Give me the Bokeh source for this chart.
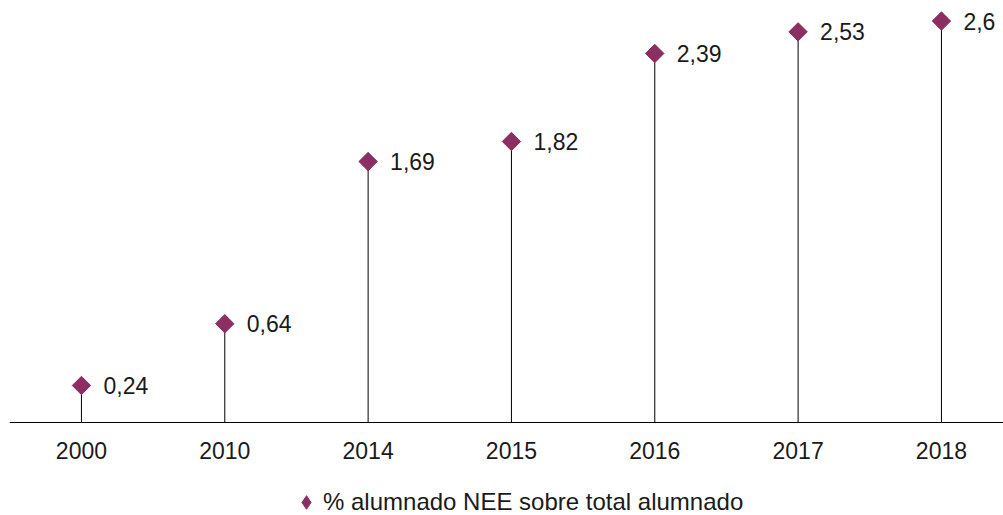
import math
from bokeh.plotting import figure
from bokeh.models import ColumnDataSource, Legend, LegendItem, FixedTicker, Range1d
from bokeh.core.properties import value
from bokeh.embed import file_html
from bokeh.resources import INLINE

years = ["2000", "2010", "2014", "2015", "2016", "2017", "2018"]
values = [0.24, 0.64, 1.69, 1.82, 2.39, 2.53, 2.6]
labels = ["0,24", "0,64", "1,69", "1,82", "2,39", "2,53", "2,6"]
series_name = "% alumnado NEE sobre total alumnado"

idx = list(range(len(years)))
src = ColumnDataSource(dict(x=idx, y=values, y0=[0] * len(values), lab=labels))

FONT = "Liberation Sans"
COL = "#8B2F62"
TXT = "#1a1a1a"
FS = "23px"

p = figure(frame_width=994, frame_height=515, output_backend="svg", toolbar_location=None,
           x_range=Range1d(-0.502, 6.433), y_range=Range1d(-0.602, 2.733),
           min_border_left=9, min_border_right=0, min_border_top=0, min_border_bottom=0)
p.outline_line_color = None
p.grid.visible = False
p.yaxis.visible = False
p.background_fill_color = None
p.border_fill_color = None

p.segment(x0="x", y0="y0", x1="x", y1="y", source=src, line_color="#000000", line_width=1)
# diamond renderer (used as legend key), fully covered by the rotated squares on top
leg_r = p.scatter(x="x", y="y", source=src, marker="diamond", size=12,
                  fill_color=COL, line_color=COL)
p.scatter(x="x", y="y", source=src, marker="square", angle=math.pi / 4, size=13,
          fill_color=COL, line_color=COL)
p.text(x="x", y="y", text="lab", source=src, x_offset=22, text_baseline="middle",
       text_align="left", text_font=value(FONT), text_font_size=FS, text_color=TXT)

ax = p.xaxis[0]
ax.fixed_location = 0
ax.ticker = FixedTicker(ticks=idx)
ax.major_label_overrides = {i: y for i, y in zip(idx, years)}
ax.major_tick_line_color = None
ax.minor_tick_line_color = None
ax.axis_line_color = "#000000"
ax.major_label_text_font = FONT
ax.major_label_text_font_size = FS
ax.major_label_text_color = TXT
ax.major_label_standoff = 13

legend = Legend(items=[LegendItem(label=series_name, renderers=[leg_r])],
                location=(280, -4),
                orientation="horizontal", border_line_color=None, background_fill_alpha=0,
                label_text_font=FONT, label_text_font_size="24px", label_text_color=TXT,
                glyph_width=34, glyph_height=34, label_standoff=-11, padding=2, margin=0)
p.add_layout(legend)

open("out.html", "w").write(file_html(p, INLINE))
